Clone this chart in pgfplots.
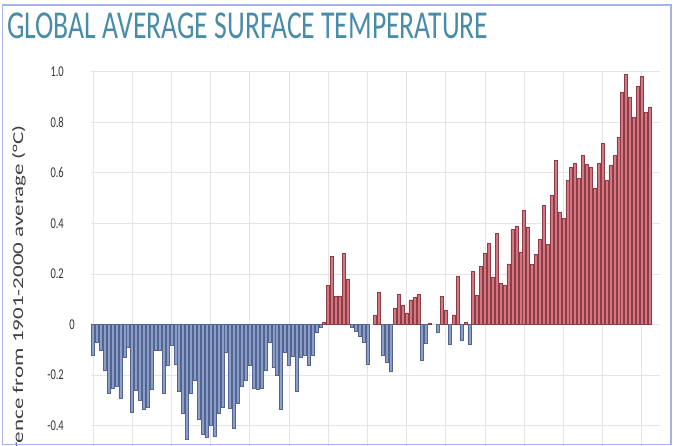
\documentclass[border=0pt]{standalone}
\usepackage{pgfplots}
\pgfplotsset{compat=1.18}
\usepackage{fontspec}
\setmainfont{Carlito}[FakeStretch=0.7]
\newfontfamily\labelfont{Carlito}

\definecolor{titleblue}{RGB}{72,140,168}
\definecolor{negfill}{RGB}{138,158,204}
\definecolor{negdraw}{RGB}{84,100,140}
\definecolor{posfill}{RGB}{214,118,128}
\definecolor{posdraw}{RGB}{140,62,72}
\definecolor{gridgray}{RGB}{228,228,228}
\definecolor{frameblue}{RGB}{165,180,228}

\begin{document}
\begin{tikzpicture}
\useasboundingbox (0pt,0pt) rectangle (673pt,446pt);
\fill[white] (0pt,0pt) rectangle (673pt,446pt);
\begin{scope}
\clip (0pt,0pt) rectangle (673pt,446pt);
\begin{axis}[
    at={(91pt,0pt)}, anchor=south west,
    scale only axis,
    width=569pt, height=374.5pt,
    xmin=-0.5, xmax=144.65,
    ymin=-0.48, ymax=1.0,
    axis line style={draw=none},
    major tick length=0pt,
    xtick={0,10,...,140}, xticklabels={},
    ytick={-0.4,-0.2,0.2,0.4,0.6,0.8,1.0},
    yticklabels={-0.4,-0.2,0.2,0.4,0.6,0.8,1.0},
    extra y ticks={0}, extra y tick labels={0},
    extra y tick style={yticklabel style={xshift=11pt}},
    yticklabel style={anchor=east, inner sep=0pt, xshift=-27pt,
        text=black!80, font=\fontsize{15}{18}\selectfont},
    xmajorgrids, ymajorgrids,
    grid style={gridgray, line width=0.8pt},
]
% years below the 1901-2000 average
\addplot[ybar, bar width=3pt, bar shift=0pt, fill=negfill, draw=negdraw, line width=0.5pt]
coordinates {
(0,-0.12) (1,-0.07) (2,-0.10) (3,-0.18) (4,-0.27) (5,-0.25) (6,-0.245) (7,-0.29)
(8,-0.13) (9,-0.09) (10,-0.345) (11,-0.26) (12,-0.30) (13,-0.335) (14,-0.325)
(15,-0.255) (16,-0.10) (17,-0.10) (18,-0.27) (19,-0.16) (20,-0.08) (21,-0.155)
(22,-0.265) (23,-0.35) (24,-0.455) (25,-0.27) (26,-0.22) (27,-0.375) (28,-0.435)
(29,-0.445) (30,-0.40) (31,-0.44) (32,-0.35) (33,-0.325) (34,-0.11) (35,-0.33)
(36,-0.41) (37,-0.31) (38,-0.245) (39,-0.22) (40,-0.16) (41,-0.25) (42,-0.255)
(43,-0.25) (44,-0.18) (45,-0.07) (46,-0.17) (47,-0.20) (48,-0.335) (49,-0.11)
(50,-0.16) (51,-0.125) (52,-0.265) (53,-0.13) (54,-0.12) (55,-0.16) (56,-0.12)
(57,-0.03) (58,-0.01)
(66,-0.01) (67,-0.025) (68,-0.045) (69,-0.07) (70,-0.155)
(74,-0.12) (75,-0.15) (76,-0.185)
(84,-0.14) (85,-0.072) (88,-0.03) (91,-0.077) (94,-0.063) (96,-0.077)
};
% years above the average
\addplot[ybar, bar width=3pt, bar shift=0pt, fill=posfill, draw=posdraw, line width=0.5pt]
coordinates {
(59,0.01) (60,0.156) (61,0.27) (62,0.11) (63,0.11) (64,0.28) (65,0.18)
(72,0.036) (73,0.128)
(77,0.065) (78,0.12) (79,0.075) (80,0.046) (81,0.097) (82,0.107) (83,0.12)
(86,0.005) (89,0.11) (90,0.057) (92,0.038) (93,0.19) (95,0.008)
(97,0.21) (98,0.115) (99,0.23) (100,0.28) (101,0.32) (102,0.185) (103,0.36)
(104,0.165) (105,0.155) (106,0.24) (107,0.377) (108,0.39) (109,0.287) (110,0.45)
(111,0.386) (112,0.237) (113,0.278) (114,0.337) (115,0.47) (116,0.317) (117,0.512)
(118,0.648) (119,0.442) (120,0.42) (121,0.571) (122,0.622) (123,0.638) (124,0.58)
(125,0.668) (126,0.634) (127,0.622) (128,0.538) (129,0.638) (130,0.717) (131,0.571)
(132,0.631) (133,0.668) (134,0.739) (135,0.919) (136,0.99) (137,0.899) (138,0.819)
(139,0.942) (140,0.98) (141,0.839) (142,0.858)
};
\end{axis}

% the reference crops the start of this label at the bottom edge
\node[rotate=90, anchor=base east, inner sep=0pt, text=black!75] at (23pt,321pt)
    {\scalebox{1}[0.66]{\labelfont\fontsize{23}{26}\selectfont Difference from 1901-2000 average (°C)}};
\end{scope}

\node[anchor=base west, inner sep=0pt, text=titleblue] at (7pt,407pt)
    {\fontsize{39.5}{42}\selectfont GLOBAL AVERAGE SURFACE TEMPERATURE};

\draw[frameblue, line width=1.5pt] (2.5pt,1.5pt) rectangle (671pt,441pt);
\end{tikzpicture}
\end{document}
